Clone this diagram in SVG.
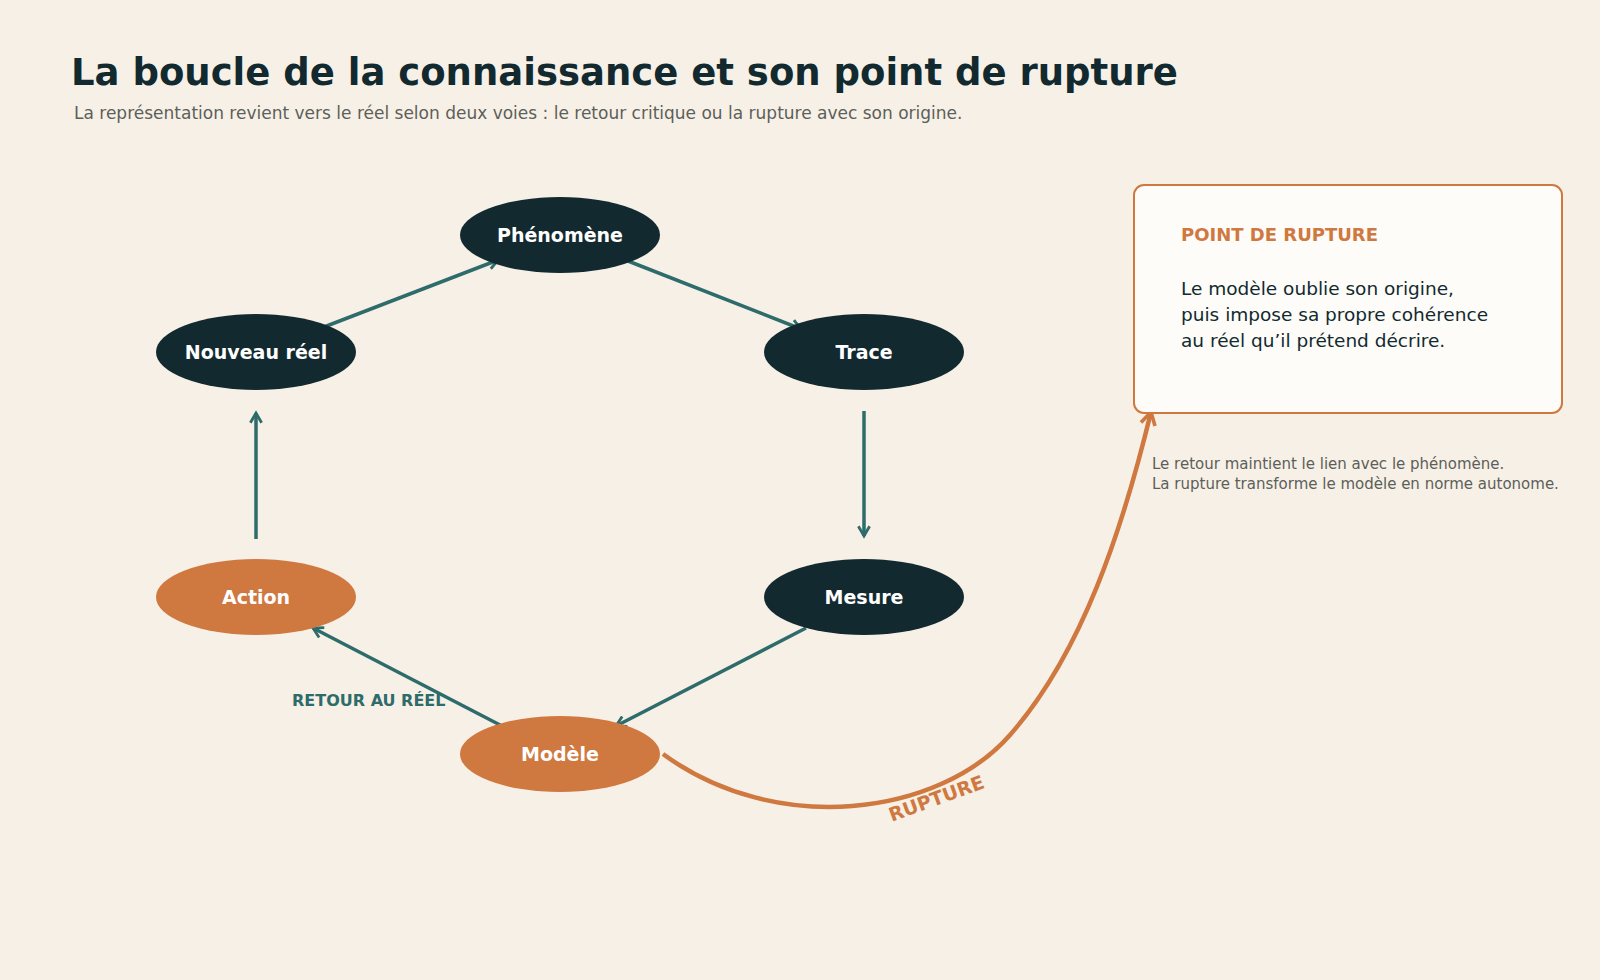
<svg xmlns="http://www.w3.org/2000/svg" width="1600" height="980" viewBox="0 0 1600 980">
<defs>
<style>
text{font-family:"DejaVu Sans","Noto Sans",sans-serif}
.dark{fill:#122A2F}.or{fill:#CF783F}
.lbl{fill:#fff;font-weight:bold;font-size:19px;text-anchor:middle}
.c{stroke:#2E6B6B;stroke-width:3.5;fill:none;marker-end:url(#a)}
</style>
<marker id="a" viewBox="0 0 10 10" refX="8" refY="5" markerWidth="4" markerHeight="4" orient="auto"><path d="M1,1 L8,5 L1,9" fill="none" stroke="#2E6B6B" stroke-width="2"/></marker>
<marker id="b" viewBox="0 0 10 10" refX="8" refY="5" markerWidth="4" markerHeight="4" orient="auto"><path d="M1,1 L8,5 L1,9" fill="none" stroke="#CF783F" stroke-width="2"/></marker>
</defs>
<rect width="1600" height="980" fill="#F7F0E6"/>
<text x="71" y="85" font-size="37" font-weight="bold" fill="#122A2F">La boucle de la connaissance et son point de rupture</text>
<text x="74" y="119" font-size="17" fill="#5C5F5A">La représentation revient vers le réel selon deux voies : le retour critique ou la rupture avec son origine.</text>
<g id="connectors">
<path class="c" d="M324 327 L498 260"/>
<path class="c" d="M628 261 L801 329"/>
<path class="c" d="M864 411 L864 536"/>
<path class="c" d="M806 628 L616 726"/>
<path class="c" d="M502 726 L313 628"/>
<path class="c" d="M256 539 L256 413"/>
<path d="M663 754 C776 837 939 816 1010 735 C1082 653 1122 531 1151 412" fill="none" stroke="#CF783F" stroke-width="4.5" marker-end="url(#b)"/>
<text x="292" y="706" font-size="16" font-weight="bold" fill="#2E6B6B">RETOUR AU RÉEL</text>
<text x="937" y="805" font-size="19" font-weight="bold" fill="#CF783F" text-anchor="middle" transform="rotate(-20 937 800)">RUPTURE</text>
</g>
<g id="phenomene"><ellipse cx="560" cy="235" rx="100" ry="38" class="dark"/><text x="560" y="242" class="lbl">Phénomène</text></g>
<g id="nouveau"><ellipse cx="256" cy="352" rx="100" ry="38" class="dark"/><text x="256" y="359" class="lbl">Nouveau réel</text></g>
<g id="trace"><ellipse cx="864" cy="352" rx="100" ry="38" class="dark"/><text x="864" y="359" class="lbl">Trace</text></g>
<g id="action"><ellipse cx="256" cy="597" rx="100" ry="38" class="or"/><text x="256" y="604" class="lbl">Action</text></g>
<g id="mesure"><ellipse cx="864" cy="597" rx="100" ry="38" class="dark"/><text x="864" y="604" class="lbl">Mesure</text></g>
<g id="modele"><ellipse cx="560" cy="754" rx="100" ry="38" class="or"/><text x="560" y="761" class="lbl">Modèle</text></g>
<g id="rupture-box">
<rect x="1134" y="185" width="428" height="228" rx="10" fill="#FDFCF8" stroke="#CF783F" stroke-width="2"/>
<text x="1181" y="241" font-size="18" font-weight="bold" fill="#CF783F">POINT DE RUPTURE</text>
<text font-size="18.5" fill="#122A2F"><tspan x="1181" y="295">Le modèle oublie son origine,</tspan><tspan x="1181" y="321">puis impose sa propre cohérence</tspan><tspan x="1181" y="347">au réel qu’il prétend décrire.</tspan></text>
</g>
<text font-size="15" fill="#5C5F5A"><tspan x="1152" y="469">Le retour maintient le lien avec le phénomène.</tspan><tspan x="1152" y="489">La rupture transforme le modèle en norme autonome.</tspan></text>
</svg>
